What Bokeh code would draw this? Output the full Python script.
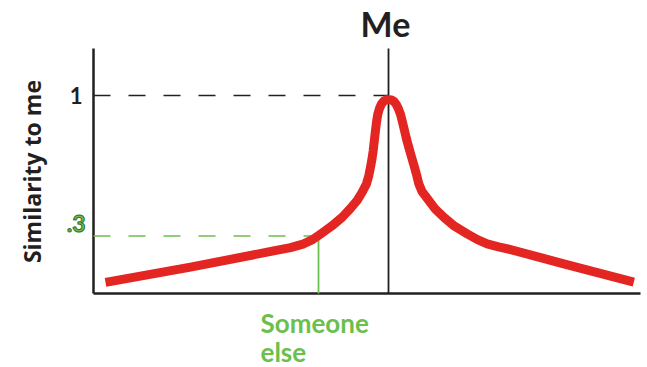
from bokeh.plotting import figure
from bokeh.models import Range1d
from bokeh.core.properties import value
from bokeh.embed import file_html
from bokeh.resources import INLINE

# Data
curve_x = [12, 97, 180, 197, 210.3, 219, 227, 238, 248.7, 257, 263.7, 268.5, 273, 275.3, 277, 278.5, 279.7, 280.8,
           281.9, 283, 284.3, 286, 288, 290.3, 292.8, 295.3,
           298, 300.5, 302.8, 304.9, 307, 309, 311, 313, 315.2, 318, 321, 323.3, 325.3, 328.5, 335.3, 342, 350.3,
           361, 373.7, 384, 393.7, 405, 417, 470.3, 540.3]
curve_y = [0.056, 0.133, 0.215, 0.232, 0.251, 0.272, 0.3, 0.34, 0.385, 0.43, 0.47, 0.51, 0.554, 0.595, 0.638, 0.68, 0.722, 0.77,
           0.82, 0.865, 0.905, 0.935, 0.958, 0.972, 0.978, 0.979,
           0.977, 0.97, 0.955, 0.933, 0.905, 0.865, 0.823, 0.78, 0.74, 0.69, 0.638, 0.595, 0.554, 0.515, 0.47, 0.425, 0.385,
           0.34, 0.301, 0.272, 0.251, 0.236, 0.222, 0.15, 0.057]
me_x = 295
other_x = 225
other_y = 0.29
tick_values = [1.0, 0.3]
tick_labels = ["1", ".3"]
y_top = 1.237
x_end = 547

RED = "#e42622"
GREEN = "#6cbf4d"
DARK = "#231f20"
FONT = value("Lato")

p = figure(width=647, height=367, output_backend="svg", toolbar_location=None,
           x_range=Range1d(-93, 554), y_range=Range1d(-0.3737, 1.4798),
           min_border=0)
p.outline_line_color = None
p.grid.visible = False
p.axis.visible = False
p.background_fill_color = "white"
p.border_fill_color = "white"

# axes drawn as lines
p.line([0, 0], [0, y_top], line_color=DARK, line_width=2.5)
p.line([0, x_end], [0, 0], line_color=DARK, line_width=2.5)

# dashed guides
p.line([0, me_x], [tick_values[0], tick_values[0]], line_color=DARK, line_width=1.5, line_dash="17 18")
p.line([0, other_x], [other_y, other_y], line_color=GREEN, line_width=1.5, line_dash="17 18")
p.line([other_x, other_x], [0, other_y], line_color=GREEN, line_width=1.8)
p.line([me_x, me_x], [0, y_top], line_color=DARK, line_width=1.8)

# curve
p.line(curve_x, curve_y, line_color=RED, line_width=9, line_cap="butt", line_join="round")

# texts
p.text(x=[292], y=[1.364], text=["Me"], text_font=FONT, text_font_style="bold",
       text_font_size="34px", text_align="center", text_baseline="middle", text_color=DARK)
p.text(x=[-11], y=[tick_values[0]], text=[tick_labels[0]], text_font=FONT, text_font_style="bold",
       text_font_size="22px", text_align="right", text_baseline="middle", text_color=DARK)
p.text(x=[-8], y=[0.355], text=[tick_labels[1]], text_font=FONT, text_font_style="bold",
       text_font_size="23px", text_align="right", text_baseline="middle", text_color=GREEN,
       text_outline_color="#2f6e2a")
p.text(x=[167, 167], y=[-0.147, -0.294], text=["Someone", "else"], text_font=FONT, text_font_style="bold",
       text_font_size="26px", text_align="left", text_baseline="alphabetic", text_color=GREEN)
p.text(x=[-62], y=[0.616], text=["Similarity to me"], text_font=value("Open Sans"), text_font_style="bold",
       text_font_size="23px", text_align="center", text_baseline="middle", text_color=DARK,
       angle=90, angle_units="deg")

open("out.html", "w").write(file_html(p, INLINE))
